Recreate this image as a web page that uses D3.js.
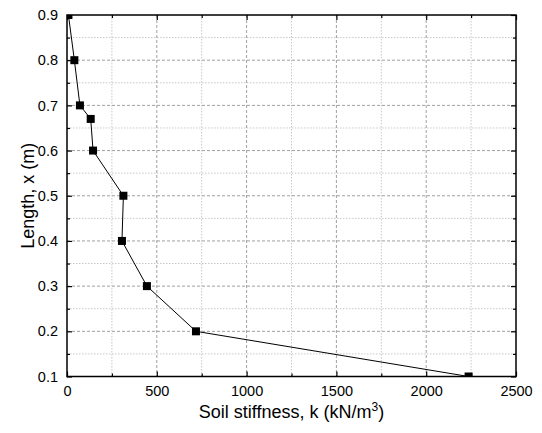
<!DOCTYPE html>
<html>
<head>
<meta charset="utf-8">
<script src="https://cdn.jsdelivr.net/npm/d3@7"></script>
<style>
  body { margin: 0; background: #fff; }
  text { font-family: "Liberation Sans", Arial, sans-serif; fill: #000; }
</style>
</head>
<body>
<div id="chart"></div>
<script>
// data
var stiffness = [8, 41, 72, 132, 145, 314, 306, 445, 718, 2236];
var lengths   = [0.9, 0.8, 0.7, 0.67, 0.6, 0.5, 0.4, 0.3, 0.2, 0.1];
var xTicks = [0, 500, 1000, 1500, 2000, 2500];
var yTicks = [0.1, 0.2, 0.3, 0.4, 0.5, 0.6, 0.7, 0.8, 0.9];

var W = 542, H = 433;
var pL = 67, pR = 516, pT = 15, pB = 376.5;

var svg = d3.select("#chart").append("svg")
  .attr("width", W).attr("height", H);

var x = d3.scaleLinear().domain([0, 2500]).range([pL, pR]);
var y = d3.scaleLinear().domain([0.1, 0.9]).range([pB, pT]);

var xMinor = d3.range(250, 2500, 500);
var yMinor = d3.range(0.15, 0.9, 0.1);

// grid
var grid = svg.append("g");
grid.selectAll(".gxm").data(xMinor).enter().append("line")
  .attr("x1", d => x(d)).attr("x2", d => x(d))
  .attr("y1", pT).attr("y2", pB)
  .attr("stroke", "#c8c8c8").attr("stroke-dasharray", "1.5,1.5");
grid.selectAll(".gym").data(yMinor).enter().append("line")
  .attr("y1", d => y(d)).attr("y2", d => y(d))
  .attr("x1", pL).attr("x2", pR)
  .attr("stroke", "#c8c8c8").attr("stroke-dasharray", "1.5,1.5");
grid.selectAll(".gx").data(xTicks.slice(1, -1)).enter().append("line")
  .attr("x1", d => x(d)).attr("x2", d => x(d))
  .attr("y1", pT).attr("y2", pB)
  .attr("stroke", "#a0a0a0").attr("stroke-dasharray", "3,2");
grid.selectAll(".gy").data(yTicks.slice(1, -1)).enter().append("line")
  .attr("y1", d => y(d)).attr("y2", d => y(d))
  .attr("x1", pL).attr("x2", pR)
  .attr("stroke", "#a0a0a0").attr("stroke-dasharray", "3,2");

// axes with inward ticks
function styleAxis(g) {
  g.select(".domain").remove();
  g.selectAll("line").attr("stroke", "#000").attr("stroke-width", 1.2);
  g.selectAll("text").style("font-size", "14.5px")
   .style("font-family", "Liberation Sans, Arial, sans-serif");
}
svg.append("g").attr("transform", "translate(0," + pB + ")")
  .call(d3.axisBottom(x).tickValues(xTicks).tickSize(-5).tickPadding(9).tickFormat(d3.format("d")))
  .call(styleAxis);
svg.append("g").attr("transform", "translate(0," + pB + ")")
  .call(d3.axisBottom(x).tickValues(xMinor).tickSize(-3).tickFormat(""))
  .call(styleAxis);
svg.append("g").attr("transform", "translate(0," + pT + ")")
  .call(d3.axisTop(x).tickValues(xTicks).tickSize(-5).tickFormat(""))
  .call(styleAxis);
svg.append("g").attr("transform", "translate(0," + pT + ")")
  .call(d3.axisTop(x).tickValues(xMinor).tickSize(-3).tickFormat(""))
  .call(styleAxis);
svg.append("g").attr("transform", "translate(" + pL + ",0)")
  .call(d3.axisLeft(y).tickValues(yTicks).tickSize(-5).tickPadding(9).tickFormat(d3.format(".1f")))
  .call(styleAxis);
svg.append("g").attr("transform", "translate(" + pL + ",0)")
  .call(d3.axisLeft(y).tickValues(yMinor).tickSize(-3).tickFormat(""))
  .call(styleAxis);
svg.append("g").attr("transform", "translate(" + pR + ",0)")
  .call(d3.axisRight(y).tickValues(yTicks).tickSize(-5).tickFormat(""))
  .call(styleAxis);
svg.append("g").attr("transform", "translate(" + pR + ",0)")
  .call(d3.axisRight(y).tickValues(yMinor).tickSize(-3).tickFormat(""))
  .call(styleAxis);

// frame
svg.append("rect")
  .attr("x", pL).attr("y", pT)
  .attr("width", pR - pL).attr("height", pB - pT)
  .attr("fill", "none").attr("stroke", "#000").attr("stroke-width", 1.5);

// clip
svg.append("clipPath").attr("id", "clip").append("rect")
  .attr("x", pL).attr("y", pT)
  .attr("width", pR - pL).attr("height", pB - pT);

var pts = stiffness.map((k, i) => ({k: k, l: lengths[i]}));
var plot = svg.append("g").attr("clip-path", "url(#clip)");

plot.append("path").datum(pts)
  .attr("fill", "none").attr("stroke", "#000").attr("stroke-width", 1)
  .attr("d", d3.line().x(d => x(d.k)).y(d => y(d.l)));

var ms = 8;
plot.selectAll(".pt").data(pts).enter().append("rect")
  .attr("x", d => x(d.k) - ms / 2).attr("y", d => y(d.l) - ms / 2)
  .attr("width", ms).attr("height", ms).attr("fill", "#000");

// titles
var xt = svg.append("text").attr("x", (pL + pR) / 2).attr("y", 418)
  .attr("text-anchor", "middle").style("font-size", "18px");
xt.append("tspan").text("Soil stiffness, k (kN/m");
xt.append("tspan").attr("dy", -7).style("font-size", "12px").text("3");
xt.append("tspan").attr("dy", 7).text(")");

svg.append("text")
  .attr("transform", "translate(34," + ((pT + pB) / 2) + ") rotate(-90)")
  .attr("text-anchor", "middle").style("font-size", "18px")
  .text("Length, x (m)");
</script>
</body>
</html>
